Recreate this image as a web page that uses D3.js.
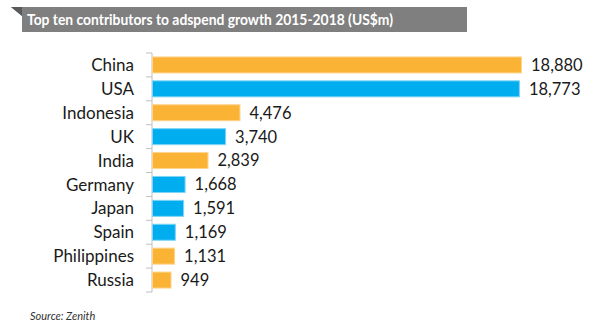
<!DOCTYPE html>
<html>
    <head>
        <style>
body {
    margin: 0;
    background: #fff;
}
svg text {
    font-family: Lato, "Open Sans", sans-serif;
}
        </style>
    </head>
    <body>
        <div id="chart"></div>
        <script src="https://d3js.org/d3.v7.min.js"></script>
        <script>

const countries = ["China", "USA", "Indonesia", "UK", "India", "Germany", "Japan", "Spain", "Philippines", "Russia"]
const growth = [18880, 18773, 4476, 3740, 2839, 1668, 1591, 1169, 1131, 949]
const group = ["o", "b", "o", "b", "o", "b", "b", "b", "o", "o"]

const colors = {o: "#fbb335", b: "#00aeef"}
const strokes = {o: "#fdd58f", b: "#7fd4f5"}

const data = countries.map((c, i) => ({country: c, value: growth[i], g: group[i]}))

const svg = d3.select("#chart").append("svg")
    .attr("width", 600)
    .attr("height", 330)

// title banner with folded corner
svg.append("path")
    .attr("d", "M11,7 L467,7 L467,32 L22,32 L22,16 Z")
    .attr("fill", "#7f7f7f")
svg.append("path")
    .attr("d", "M11,7 L22,7 L22,16 Z")
    .attr("fill", "#5a5a5a")
svg.append("text")
    .attr("x", 27)
    .attr("y", 25)
    .attr("fill", "#fff")
    .attr("font-weight", "bold")
    .attr("font-size", 16)
    .attr("textLength", 366)
    .attr("lengthAdjust", "spacingAndGlyphs")
    .text("Top ten contributors to adspend growth 2015-2018 (US$m)")

const x = d3.scaleLinear()
    .domain([0, d3.max(growth)])
    .range([152, 521])
const y = d3.scaleBand()
    .domain(countries)
    .range([53, 292])
    .paddingInner(0.33)
    .paddingOuter(0.165)

// axis with ticks between categories
const axis = svg.append("g")
axis.append("line")
    .attr("x1", 152).attr("x2", 152)
    .attr("y1", 53).attr("y2", 292)
    .attr("stroke", "#bfbfbf")
axis.selectAll(".tick")
    .data(d3.range(countries.length + 1))
    .enter()
    .append("line")
    .attr("x1", 146).attr("x2", 152)
    .attr("y1", i => 53 + i * y.step())
    .attr("y2", i => 53 + i * y.step())
    .attr("stroke", "#bfbfbf")

svg.selectAll(".bar")
    .data(data)
    .enter()
    .append("rect")
    .attr("x", x(0) + 0.5)
    .attr("y", d => y(d.country))
    .attr("width", d => x(d.value) - x(0))
    .attr("height", y.bandwidth())
    .attr("fill", d => colors[d.g])
    .attr("stroke", d => strokes[d.g])
    .attr("stroke-width", 1)

svg.selectAll(".cat")
    .data(data)
    .enter()
    .append("text")
    .attr("x", 134)
    .attr("y", d => y(d.country) + y.bandwidth() / 2)
    .attr("dy", "0.36em")
    .attr("text-anchor", "end")
    .attr("font-size", 17)
    .attr("fill", "#1a1a1a")
    .text(d => d.country)

svg.selectAll(".val")
    .data(data)
    .enter()
    .append("text")
    .attr("x", d => x(d.value) + 10)
    .attr("y", d => y(d.country) + y.bandwidth() / 2)
    .attr("dy", "0.36em")
    .attr("font-size", 16.5)
    .attr("fill", "#1a1a1a")
    .text(d => d3.format(",")(d.value))

svg.append("text")
    .attr("x", 30)
    .attr("y", 320)
    .attr("font-size", 11)
    .attr("font-style", "italic")
    .attr("fill", "#333")
    .text("Source: Zenith")
        </script>
    </body>
</html>
